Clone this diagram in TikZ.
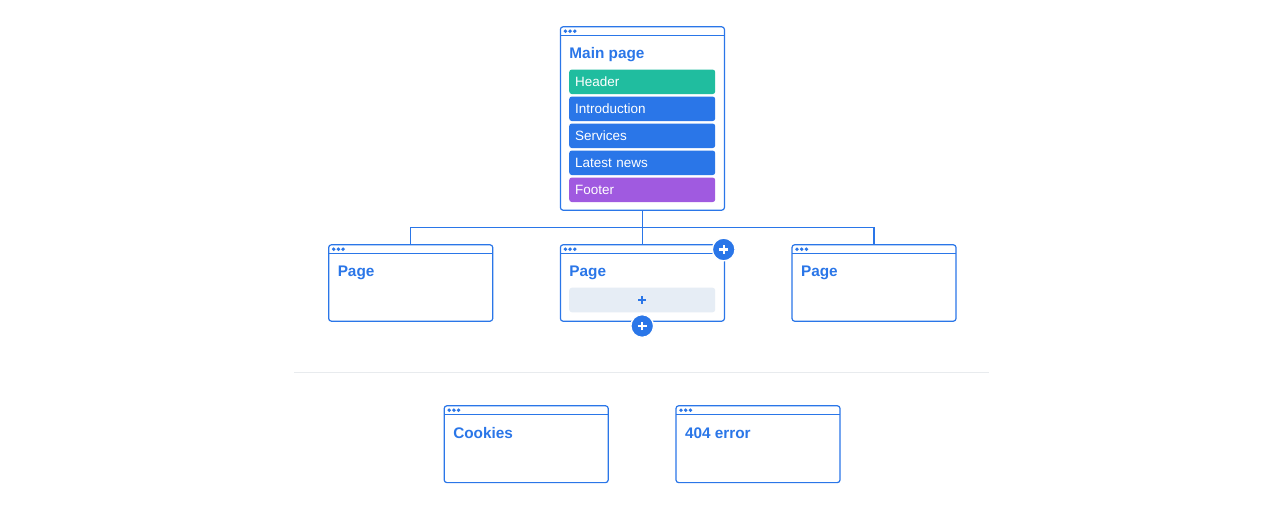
\documentclass[tikz,border=0pt]{standalone}
\usepackage{fontspec}
\setmainfont{Liberation Sans}
\definecolor{bl}{HTML}{2A76E8}
\definecolor{grn}{HTML}{20BD9F}
\definecolor{pur}{HTML}{A05AE0}
\definecolor{pale}{HTML}{E6EDF5}
\definecolor{rule}{HTML}{E8EBEE}
\tikzset{
  x=0.75pt,y=-0.75pt,
  win/.style={draw=bl,line width=0.9pt,fill=white,rounded corners=2pt,minimum width=123pt,inner sep=0pt,outer sep=0pt},
  wire/.style={draw=bl,line width=0.9pt},
  titletext/.style={text=bl,font=\fontsize{11.5pt}{13pt}\selectfont\bfseries,anchor=base west,inner sep=0pt},
  bar/.style={rounded corners=2pt,minimum width=109.5pt,minimum height=18.4pt,inner sep=0pt,text=white,font=\fontsize{10.1pt}{12pt}\selectfont,align=left,text width=100.5pt},
  dot/.style={circle,fill=bl,inner sep=0pt,minimum size=2.9pt},
  plusbtn/.style={circle,fill=bl,draw=white,line width=1pt,minimum size=17pt,inner sep=0pt},
  plusbar/.style={draw=white,line width=1.7pt},
}
\usetikzlibrary{calc}
\newcommand{\window}[6]{% name, x-centre, top, height(px), title, title baseline offset
  \node[win,minimum height=#4*0.75pt,anchor=north] (#1) at (#2,#3) {};
  \draw[wire] ([yshift=-6.5pt]#1.north west) -- ([yshift=-6.5pt]#1.north east);
  \foreach \k in {0,1,2}
    \node[dot] (#1d\k) at ($(#1.north west)+(5+4.7*\k,4.4)$) {};
  \node[titletext] (#1t) at ($(#1.north west)+(8.8,#6)$) {#5};
}
\begin{document}
\begin{tikzpicture}
\useasboundingbox (0,0) rectangle (1280,509);
\fill[white] (0,0) rectangle (1280,509);
\window{main}{642.4}{26.8}{183.4}{Main page}{31.7}
\node[bar,fill=grn] (b1) at (642.2,81.8) {Header};
\node[bar,fill=bl] (b2) at (642.2,108.8) {Introduction};
\node[bar,fill=bl] (b3) at (642.2,135.8) {Services};
\node[bar,fill=bl] (b4) at (642.2,162.8) {Latest news};
\node[bar,fill=pur] (b5) at (642.2,189.8) {Footer};
\window{p1}{410.7}{244.8}{76.4}{Page}{31.7}
\window{p2}{642.4}{244.8}{76.4}{Page}{31.7}
\window{p3}{874}{244.8}{76.4}{Page}{31.7}
\coordinate (j) at (642.4,227.5);
\draw[wire] (main.south) -- (p2.north);
\draw[wire] (p1.north) |- (j) -| (p3.north);
\node[bar,fill=pale,text=bl] (add) at (642.2,300) {};
\coordinate (addc) at (642.2,300);
\draw[bl,line width=1.5pt] ([xshift=-3.1pt]addc) -- ([xshift=3.1pt]addc);
\draw[bl,line width=1.5pt] ([yshift=-3.1pt]addc) -- ([yshift=3.1pt]addc);
\node[plusbtn] (addr) at (723.7,249.5) {};
\node[plusbtn] (addb) at (642.2,326) {};
\foreach \n in {addr,addb}{
  \draw[plusbar] ([xshift=-3.3pt]\n.center) -- ([xshift=3.3pt]\n.center);
  \draw[plusbar] ([yshift=-3.3pt]\n.center) -- ([yshift=3.3pt]\n.center);
}
\coordinate (ra) at (294,372.3);
\coordinate (rb) at (989,372.3);
\draw[rule,line width=1pt] (ra) -- (rb);
\window{c1}{526.2}{405.8}{76.8}{Cookies}{32.3}
\window{c2}{758}{405.8}{76.8}{404 error}{32.3}
\end{tikzpicture}
\end{document}
